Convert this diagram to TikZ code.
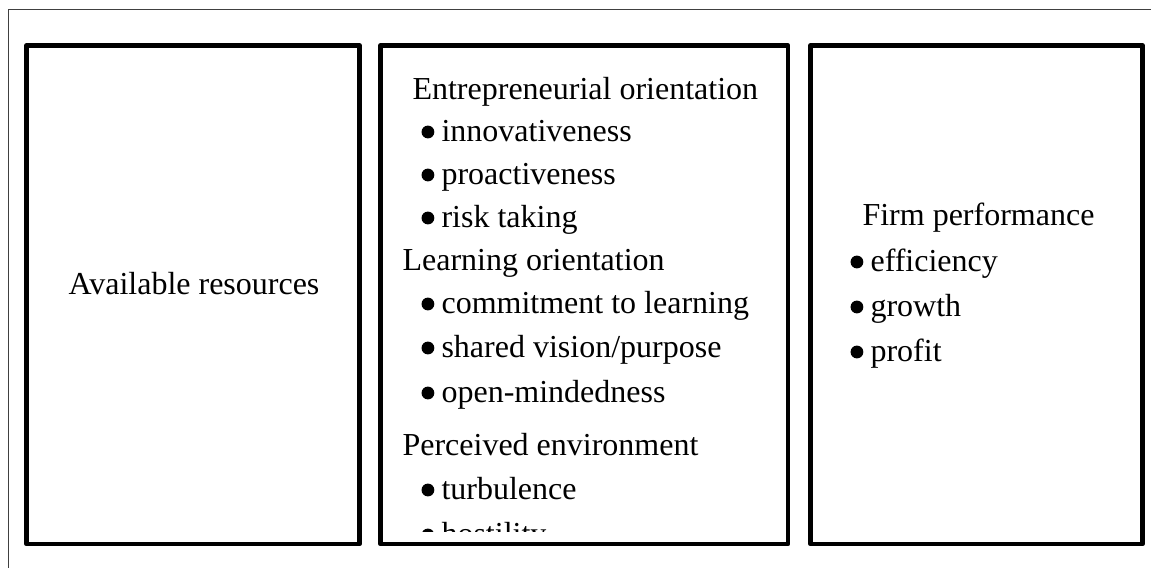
\documentclass[tikz,border=0pt]{standalone}
\usepackage{fontspec}
\setmainfont{Liberation Serif}
\usetikzlibrary{positioning}
\definecolor{framegray}{rgb}{0.25,0.25,0.25}
\tikzset{
    panel/.style={line width=1.7pt},
    txt/.style={anchor=base west,inner sep=0pt,font=\fontsize{12}{14}\selectfont},
    bul/.style={radius=2.4pt},
}

\begin{document}
\begin{tikzpicture}[line cap=round,line join=round,x=0.375pt,y=-0.375pt]
    \clip(0,0) rectangle (1151,568);
    % outer frame, only top and left edge show
    \draw [line width=0.45pt,color=framegray] (8.5,9.5) rectangle (1180,600);
    % the three panels
    \draw [panel] (26.5,45.5) rectangle (359.5,544);
    \draw [panel] (380.5,45.5) rectangle (788,544);
    \draw [panel] (810.5,45.5) rectangle (1142.5,544);
    % left panel
    \node [txt,anchor=base] (avail) at (194,295) {Available resources};
    % middle panel, text cut at the lower edge
    \begin{scope}
    \clip (380.5,45.5) rectangle (788,532);
    \node [txt] (eo) at (412,100) {Entrepreneurial orientation};
    \node [txt] (eo1) at (441,142) {innovativeness};
    \node [txt] (eo2) at (441,185) {proactiveness};
    \node [txt] (eo3) at (441,228) {risk taking};
    \node [txt] (lo) at (402,271) {Learning orientation};
    \node [txt] (lo1) at (441,314) {commitment to learning};
    \node [txt] (lo2) at (441,358) {shared vision/purpose};
    \node [txt] (lo3) at (441,403) {open-mindedness};
    \node [txt] (pe) at (402,456) {Perceived environment};
    \node [txt] (pe1) at (441,500) {turbulence};
    \node [txt] (pe2) at (441,545) {hostility};
    \foreach \n in {eo1,eo2,eo3,lo1,lo2,lo3,pe1,pe2}
        \fill [bul] ([xshift=-4.9pt,yshift=3.75pt]\n.base west) circle;
    \end{scope}
    % right panel
    \node [txt] (fp) at (862,226) {Firm performance};
    \node [txt] (fp1) at (870,272) {efficiency};
    \node [txt] (fp2) at (870,317) {growth};
    \node [txt] (fp3) at (870,362) {profit};
    \foreach \n in {fp1,fp2,fp3}
        \fill [bul] ([xshift=-4.9pt,yshift=3.75pt]\n.base west) circle;
\end{tikzpicture}
\end{document}
